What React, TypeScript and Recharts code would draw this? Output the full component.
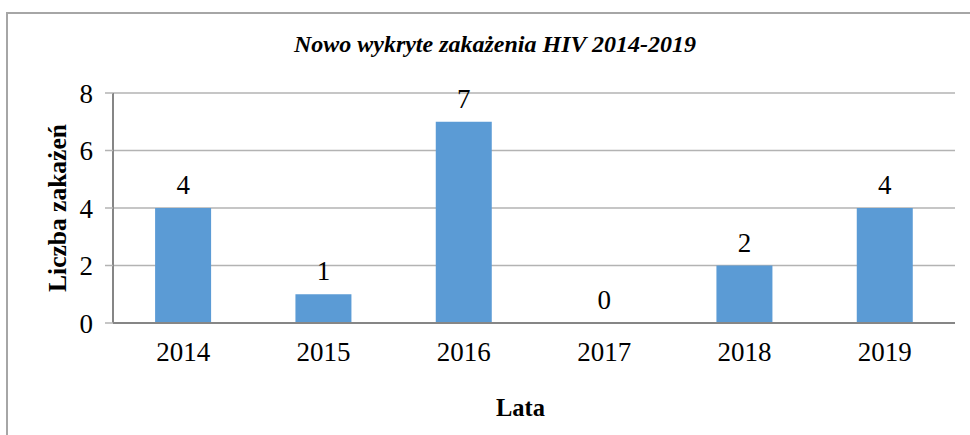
import { ComposedChart, Bar, Line, XAxis, YAxis, CartesianGrid, LabelList } from 'recharts';

const years = ['2014', '2015', '2016', '2017', '2018', '2019'];
const infections = [4, 1, 7, 0, 2, 4];
const yTicks = [0, 2, 4, 6, 8];

const data = years.map((year, i) => ({ year, value: infections[i] }));

const serif = '"Liberation Serif", "Times New Roman", serif';

export default function App() {
  return (
    <div
      style={{
        position: 'absolute',
        left: 0,
        top: 0,
        width: 970,
        height: 435,
        overflow: 'hidden',
        background: '#fff',
        fontFamily: serif,
      }}
    >
      <div
        style={{
          position: 'absolute',
          left: 6,
          top: 12,
          width: 980,
          height: 440,
          borderLeft: '2px solid #a6a6a6',
          borderTop: '2px solid #a6a6a6',
        }}
      />
      <div
        style={{
          position: 'absolute',
          left: 0,
          width: 990,
          top: 31,
          textAlign: 'center',
          fontSize: 24,
          fontWeight: 'bold',
          fontStyle: 'italic',
        }}
      >
        Nowo wykryte zakażenia HIV 2014-2019
      </div>
      <div
        style={{
          position: 'absolute',
          left: 496,
          top: 394,
          fontSize: 24.5,
          fontWeight: 'bold',
        }}
      >
        Lata
      </div>
      <div style={{ position: 'absolute', left: 0, top: 0 }}>
        <ComposedChart
          width={970}
          height={435}
          data={data}
          margin={{ top: 93, right: 15, bottom: 52, left: 0 }}
          barCategoryGap="30%"
        >
          <CartesianGrid vertical={false} stroke="#b3b3b3" strokeWidth={1.5} />
          <XAxis
            dataKey="year"
            height={60}
            tickLine={false}
            tickSize={0}
            tickMargin={19}
            axisLine={{ stroke: '#868686', strokeWidth: 2 }}
            tick={{ fontSize: 27, fill: '#000', fontFamily: serif }}
          />
          <YAxis
            width={113}
            domain={[0, 8]}
            ticks={yTicks}
            interval={0}
            tickSize={8}
            tickMargin={12}
            tickLine={{ stroke: '#b3b3b3', strokeWidth: 1.5 }}
            axisLine={{ stroke: '#868686', strokeWidth: 2 }}
            tick={{ fontSize: 27, fill: '#000', fontFamily: serif }}
            label={{
              value: 'Liczba zakażeń',
              angle: -90,
              position: 'insideLeft',
              offset: 57,
              style: {
                fontSize: 25.5,
                fontWeight: 'bold',
                fill: '#000',
                fontFamily: serif,
                textAnchor: 'middle',
              },
            }}
          />
          <Bar dataKey="value" fill="#5b9bd5" isAnimationActive={false} />
          <Line
            dataKey="value"
            stroke="none"
            dot={false}
            activeDot={false}
            isAnimationActive={false}
          >
            <LabelList
              dataKey="value"
              position="top"
              offset={14}
              style={{ fontSize: 27, fill: '#000', fontFamily: serif }}
            />
          </Line>
        </ComposedChart>
      </div>
    </div>
  );
}
